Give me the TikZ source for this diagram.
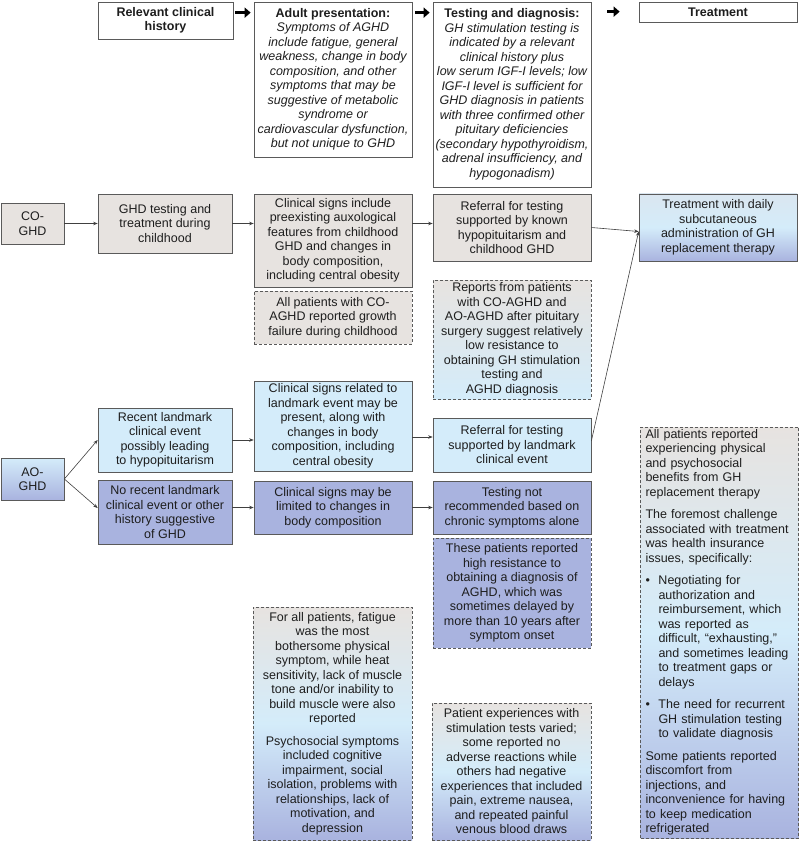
\documentclass[tikz,border=0pt]{standalone}
\usepackage{fontspec}
\setmainfont{Liberation Sans}
\usetikzlibrary{arrows.meta,calc}
\definecolor{grayf}{HTML}{E7E3E0}
\definecolor{bluef}{HTML}{D4ECFA}
\definecolor{purpf}{HTML}{A9B3DF}
\definecolor{bluegray}{HTML}{DAE6F0}
\definecolor{bord}{HTML}{5A5A5A}
\definecolor{lin}{HTML}{404040}
\definecolor{txt}{HTML}{1E1E1E}
\tikzset{
  every node/.style={font=\fontsize{12.5}{14.5}\selectfont, text=txt, inner sep=2pt},
  sz/.style 2 args={minimum width=#1pt, minimum height=#2pt},
  plainbox/.style={draw=bord, line width=0.7pt, align=center},
  whitebox/.style={plainbox, fill=white},
  graybox/.style={plainbox, fill=grayf},
  bluebox/.style={plainbox, fill=bluef},
  purplebox/.style={plainbox, fill=purpf},
  dashbox/.style={dash pattern=on 3pt off 2pt},
  grad3/.style={top color=grayf, bottom color=purpf, middle color=bluef},
  conn/.style={draw=lin, line width=0.6pt, -{Stealth[length=4.5pt,width=3.5pt]}},
  hdr/.style={draw=black, line width=3.5pt, -{Triangle[length=6pt,width=10pt]}}
}
\begin{document}
\begin{tikzpicture}[x=1pt,y=-1pt]
\useasboundingbox (0,0) rectangle (800,842);
\fill[white] (0,0) rectangle (800,842);
% header row
\node[whitebox, sz={135}{37}] (h1) at (165.5,20.5) {\textbf{Relevant clinical}\\\textbf{history}};
\node[whitebox, sz={158}{155}] (h2) at (333,79.5) {\textbf{Adult presentation:}\\\itshape Symptoms of AGHD\\\itshape include fatigue, general\\\itshape weakness, change in body\\\itshape composition, and other\\\itshape symptoms that may be\\\itshape suggestive of metabolic\\\itshape syndrome or\\\itshape cardiovascular dysfunction,\\\itshape but not unique to GHD};
\node[whitebox, sz={158}{185}] (h3) at (512,94.5) {\textbf{Testing and diagnosis:}\\\itshape GH stimulation testing is\\\itshape indicated by a relevant\\\itshape clinical history plus\\\itshape low serum IGF-I levels; low\\\itshape IGF-I level is sufficient for\\\itshape GHD diagnosis in patients\\\itshape with three confirmed other\\\itshape pituitary deficiencies\\\itshape (secondary hypothyroidism,\\\itshape adrenal insufficiency, and\\\itshape hypogonadism)};
\node[whitebox, sz={158}{20}] (h4) at (718,12) {\textbf{Treatment}};
% CO row
\node[graybox, sz={63}{41}] (co) at (32.5,223.5) {CO-\\GHD};
\node[graybox, sz={134}{59}] (ghdt) at (165,223.5) {GHD testing and\\treatment during\\childhood};
\node[graybox, sz={158}{93}] (cs) at (333,240.5) {Clinical signs include\\preexisting auxological\\features from childhood\\GHD and changes in\\body composition,\\including central obesity};
\node[graybox, dashbox, sz={158}{53}] (cod) at (333,317.5) {All patients with CO-\\AGHD reported growth\\failure during childhood};
\node[graybox, sz={158}{67}] (ref1) at (512,227.5) {Referral for testing\\supported by known\\hypopituitarism and\\childhood GHD};
\node[plainbox, top color=bluegray, bottom color=purpf, middle color=bluef, sz={158}{67}] (treat) at (718,227.5) {Treatment with daily\\subcutaneous\\administration of GH\\replacement therapy};
\node[plainbox, dashbox, top color=grayf, bottom color=bluef, sz={158}{119}] (rep) at (512,339.5) {Reports from patients\\with CO-AGHD and\\AO-AGHD after pituitary\\surgery suggest relatively\\low resistance to\\obtaining GH stimulation\\testing and\\AGHD diagnosis};
% AO rows
\node[plainbox, top color=bluef, bottom color=purpf, sz={63}{42}] (ao) at (32.5,479) {AO-\\GHD};
\node[bluebox, sz={134}{64}] (rec) at (165,440) {Recent landmark\\clinical event\\possibly leading\\to hypopituitarism};
\node[purplebox, sz={134}{64}] (norec) at (165,512) {No recent landmark\\clinical event or other\\history suggestive\\of GHD};
\node[bluebox, sz={158}{90}] (csr) at (333,426) {Clinical signs related to\\landmark event may be\\present, along with\\changes in body\\composition, including\\central obesity};
\node[purplebox, sz={158}{53}] (csm) at (333,507.5) {Clinical signs may be\\limited to changes in\\body composition};
\node[bluebox, sz={158}{54}] (ref2) at (512,445) {Referral for testing\\supported by landmark\\clinical event};
\node[purplebox, sz={158}{53}] (tnr) at (512,507.5) {Testing not\\recommended based on\\chronic symptoms alone};
\node[purplebox, dashbox, sz={158}{110}] (hr) at (512,593) {These patients reported\\high resistance to\\obtaining a diagnosis of\\AGHD, which was\\sometimes delayed by\\more than 10 years after\\symptom onset};
\node[plainbox, dashbox, grad3, sz={159}{233}] (fat) at (332.5,723.5) {For all patients, fatigue\\was the most\\bothersome physical\\symptom, while heat\\sensitivity, lack of muscle\\tone and/or inability to\\build muscle were also\\reported\\[8pt]Psychosocial symptoms\\included cognitive\\impairment, social\\isolation, problems with\\relationships, lack of\\motivation, and\\depression};
\node[plainbox, dashbox, grad3, sz={159}{137}] (pe) at (511.5,771.5) {Patient experiences with\\stimulation tests varied;\\some reported no\\adverse reactions while\\others had negative\\experiences that included\\pain, extreme nausea,\\and repeated painful\\venous blood draws};
\node[plainbox, dashbox, grad3, sz={157}{411}, text width=148pt, align=left, inner xsep=5pt] (tn) at (719.5,632.5) {All patients reported\\experiencing physical\\and psychosocial\\benefits from GH\\replacement therapy\\[8pt]The foremost challenge\\associated with treatment\\was health insurance\\issues, specifically:\\[8pt]\makebox[13pt][l]{\textbullet}Negotiating for\\\hspace*{13pt}authorization and\\\hspace*{13pt}reimbursement, which\\\hspace*{13pt}was reported as\\\hspace*{13pt}difficult, “exhausting,”\\\hspace*{13pt}and sometimes leading\\\hspace*{13pt}to treatment gaps or\\\hspace*{13pt}delays\\[8pt]\makebox[13pt][l]{\textbullet}The need for recurrent\\\hspace*{13pt}GH stimulation testing\\\hspace*{13pt}to validate diagnosis\\[8pt]Some patients reported\\discomfort from\\injections, and\\inconvenience for having\\to keep medication\\refrigerated};
% header arrows
\draw[hdr] ($(h1.north east)+(2,11)$) -- ($(h1.north east -| h2.west)+(-3,11)$);
\draw[hdr] ($(h2.north east)+(3,11)$) -- ($(h2.north east -| h3.west)+(-3,11)$);
\draw[hdr] ($(h3.north east)+(16,10)$) -- ($(h3.north east -| h4.west)+(-19,10)$);
% connectors
\coordinate (tin) at ($(treat.west)+(0,4)$);
\draw[conn] (co) -- (ghdt);
\draw[conn] (ghdt.east) -- (ghdt.east -| cs.west);
\draw[conn] (ghdt.east -| cs.east) -- (ghdt.east -| ref1.west);
\draw[conn] (ref1.east) -- (tin);
\draw[conn] ($(ref2.east)+(0,-4)$) -- (tin);
\draw[conn] (ao.east) -- (rec.west);
\draw[conn] (ao.east) -- ($(norec.west)+(0,-4)$);
\draw[conn] (rec.east) -- (rec.east -| csr.west);
\draw[conn] ($(rec.east -| csr.east)+(0,-3)$) -- ($(rec.east -| ref2.west)+(0,-3)$);
\draw[conn] (norec.east |- csm.west) -- (csm.west);
\draw[conn] (csm) -- (tnr);
\end{tikzpicture}
\end{document}
